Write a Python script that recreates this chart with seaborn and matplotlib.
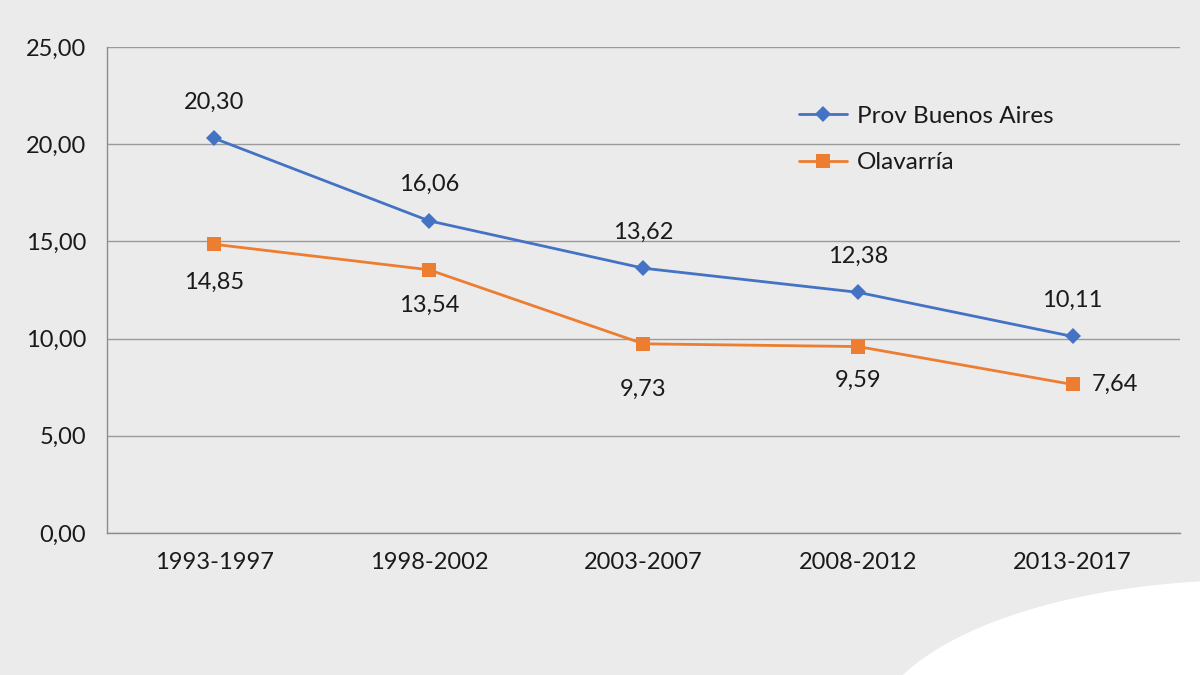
import pandas as pd
import matplotlib.pyplot as plt
import matplotlib.ticker as mticker
from matplotlib.patches import Ellipse
import seaborn as sns

# Data
periodos = ['1993-1997', '1998-2002', '2003-2007', '2008-2012', '2013-2017']
prov_ba = [20.30, 16.06, 13.62, 12.38, 10.11]
olavarria = [14.85, 13.54, 9.73, 9.59, 7.64]

df = pd.DataFrame({
    'Periodo': periodos * 2,
    'Valor': prov_ba + olavarria,
    'Serie': ['Prov Buenos Aires'] * 5 + ['Olavarría'] * 5,
})

sns.set_style('white')
plt.rcParams['font.family'] = ['Lato', 'DejaVu Sans']

fig = plt.figure(figsize=(12, 6.75), dpi=100, facecolor='#ebebeb')

# white swoosh in the bottom-right corner of the slide
fig.patches.append(Ellipse((1250 / 1200, 1 - 740 / 675), 760 / 1200, 320 / 675,
                           transform=fig.transFigure, facecolor='white',
                           edgecolor='none', zorder=0))

ax = fig.add_axes([0.0892, 0.2104, 0.8940, 0.7200])
ax.set_facecolor('none')

colores = {'Prov Buenos Aires': '#4472C4', 'Olavarría': '#ED7D31'}
marcadores = {'Prov Buenos Aires': 'D', 'Olavarría': 's'}
sns.lineplot(data=df, x='Periodo', y='Valor', hue='Serie', style='Serie',
             palette=colores, markers=marcadores, dashes=False, sort=False,
             linewidth=2, markersize=9, markeredgewidth=0, ax=ax)
for ln in ax.lines:
    if ln.get_marker() == 's':
        ln.set_markersize(10)
    else:
        ln.set_markersize(8)

ax.set_xlim(-0.5, 4.5)
ax.set_ylim(0, 25)
ax.yaxis.set_major_locator(mticker.MultipleLocator(5))
ax.yaxis.set_major_formatter(mticker.FuncFormatter(lambda v, p: f'{v:.2f}'.replace('.', ',')))
ax.grid(axis='y', color='#9a9a9a', linewidth=1)
ax.set_axisbelow(True)

ax.set_xticks(range(5))
ax.set_xticklabels(periodos)
ax.set_xticks([i - 0.5 for i in range(6)], minor=True)
ax.tick_params(axis='x', which='major', length=0, pad=14, labelsize=17, labelcolor='#1a1a1a')
ax.tick_params(axis='x', which='minor', length=7, color='#8c8c8c', direction='out')
ax.tick_params(axis='y', length=7, color='#8c8c8c', direction='out', labelsize=17,
               labelcolor='#1a1a1a', pad=8)

for s in ['top', 'right']:
    ax.spines[s].set_visible(False)
for s in ['left', 'bottom']:
    ax.spines[s].set_color('#8c8c8c')
    ax.spines[s].set_linewidth(1)
ax.set_xlabel('')
ax.set_ylabel('')

fmt = lambda v: f'{v:.2f}'.replace('.', ',')
for i, v in enumerate(prov_ba):
    ax.annotate(fmt(v), (i, v), xytext=(0, 36), textcoords='offset pixels',
                ha='center', va='center', fontsize=17, color='#1a1a1a')
off_ola = [(0, -38), (0, -36), (0, -46), (0, -34), (42, 0)]
for i, v in enumerate(olavarria):
    dx, dy = off_ola[i]
    ax.annotate(fmt(v), (i, v), xytext=(dx, dy), textcoords='offset pixels',
                ha='center', va='center', fontsize=17, color='#1a1a1a')

leg = ax.legend(loc='upper left', bbox_to_anchor=(777 / 1200, 1 - 84 / 675),
                bbox_transform=fig.transFigure, frameon=False, fontsize=17.5,
                handlelength=2.0, labelspacing=1.05, handletextpad=0.4)
for t in leg.get_texts():
    t.set_color('#1a1a1a')

fig.savefig('out.png', dpi=100, facecolor=fig.get_facecolor())
